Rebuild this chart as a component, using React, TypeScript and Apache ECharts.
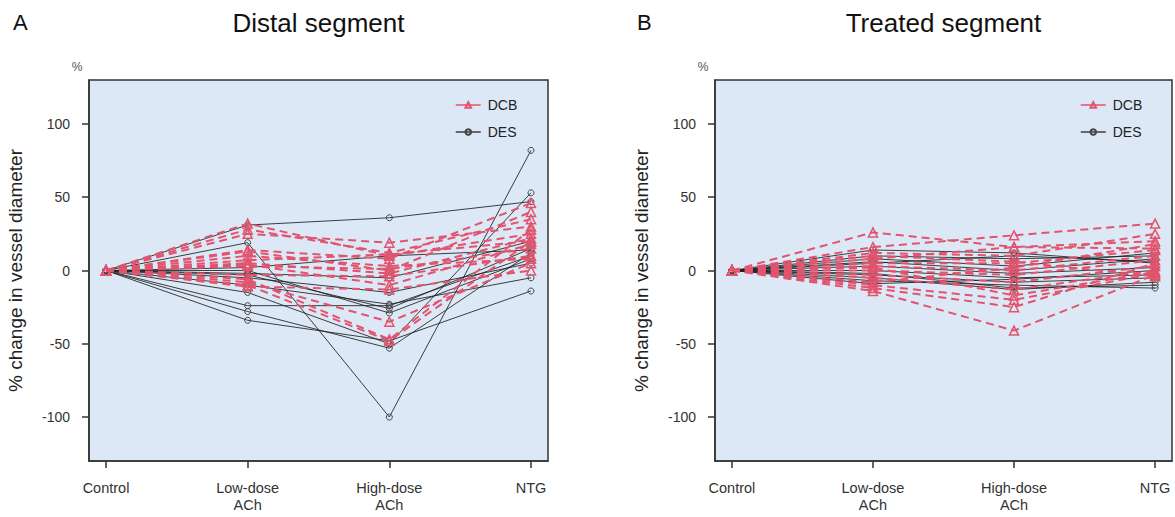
import React, { useEffect, useRef } from "react";
import * as echarts from "echarts";

const categories = ["Control", "Low-dose\nACh", "High-dose\nACh", "NTG"];
const yTicks = [-100, -50, 0, 50, 100];
const panelTitles = ["Distal segment", "Treated segment"];
const panelLetters = ["A", "B"];

// Panel A – distal segment
const distalDES = [
  [0, 31, 36, 47],
  [0, 19, -100, 82],
  [0, -15, -50, 53],
  [0, -34, -48, -14],
  [0, -28, -53, 12],
  [0, -24, -24, 10],
  [0, -3, -26, 15],
  [0, 0, -29, 8],
  [0, -2, -5, 20],
  [0, 2, 10, 14],
  [0, -5, -15, 5],
  [0, -10, -23, -5],
];
const distalDCB = [
  [0, 32, 10, 25],
  [0, 28, 12, 35],
  [0, 25, 19, 30],
  [0, 14, 8, 46],
  [0, 13, 0, 40],
  [0, 7, 11, 20],
  [0, 5, -2, 22],
  [0, 4, -10, 18],
  [0, 3, 1, 15],
  [0, -3, -4, 10],
  [0, -8, -35, 5],
  [0, -10, -48, 20],
  [0, -11, -13, 0],
  [0, -6, -47, 28],
  [0, 10, 3, 8],
];

// Panel B – treated segment
const treatedDES = [
  [0, 14, 12, 5],
  [0, 10, 8, 10],
  [0, 8, 3, 12],
  [0, 5, 10, 6],
  [0, 3, -2, 2],
  [0, 0, -5, -3],
  [0, -3, -8, -5],
  [0, -5, -13, -8],
  [0, -7, -10, -12],
  [0, -9, -6, 0],
  [0, 6, 0, 8],
  [0, -2, -12, -10],
];
const treatedDCB = [
  [0, 26, 16, 15],
  [0, 16, 24, 32],
  [0, 12, 10, 25],
  [0, 8, 16, 20],
  [0, 5, 5, 14],
  [0, 3, 0, 10],
  [0, 0, -3, 7],
  [0, -3, -8, 3],
  [0, -5, -13, 0],
  [0, -10, -20, -2],
  [0, -14, -41, -3],
  [0, -12, -25, 5],
  [0, 2, -17, -1],
  [0, -8, 2, 18],
  [0, 10, 6, -4],
];

const RED = "#e2546e";
const DARK = "#1e1e1e";
const BG = "#dce8f5";
const FONT = "Liberation Sans, Arial, Helvetica, sans-serif";

export default function App() {
  const ref = useRef<HTMLDivElement>(null);
  useEffect(() => {
    if (!ref.current) return;
    const chart = echarts.init(ref.current, null, { renderer: "svg" });
    const grids = [
      { left: 89, top: 80, width: 459, height: 381 },
      { left: 715, top: 80, width: 457, height: 381 },
    ];
    const panels = [
      { des: distalDES, dcb: distalDCB },
      { des: treatedDES, dcb: treatedDCB },
    ];
    const series: any[] = [];
    panels.forEach((p, pi) => {
      p.des.forEach((row) => {
        series.push({
          type: "line",
          name: "DES",
          xAxisIndex: pi,
          yAxisIndex: pi,
          data: row.map((v, i) => [i, v]),
          symbol: "circle",
          symbolSize: 6,
          lineStyle: { color: DARK, width: 1, opacity: 0.85 },
          itemStyle: { color: "rgba(0,0,0,0)", borderColor: "#444", borderWidth: 1 },
          silent: true,
          z: 2,
        });
      });
      p.dcb.forEach((row) => {
        series.push({
          type: "line",
          name: "DCB",
          xAxisIndex: pi,
          yAxisIndex: pi,
          data: row.map((v, i) => [i, v]),
          symbol: "triangle",
          symbolSize: 9,
          lineStyle: { color: RED, width: 2, type: [8, 5] },
          itemStyle: { color: "rgba(0,0,0,0)", borderColor: RED, borderWidth: 1.5 },
          silent: true,
          z: 3,
        });
      });
    });

    const xAxes = grids.map((_, i) => ({
      type: "value",
      gridIndex: i,
      min: -0.12,
      max: 3.12,
      splitLine: { show: false },
      axisLine: { show: true, onZero: false, lineStyle: { color: "#333", width: 1.5 } },
      axisTick: { show: true, customValues: [0, 1, 2, 3], length: 7, lineStyle: { color: "#333", width: 1.5 } },
      axisLabel: {
        customValues: [0, 1, 2, 3],
        formatter: (v: number) => categories[Math.round(v)] ?? "",
        fontSize: 14.5,
        lineHeight: 17,
        color: "#333",
        fontFamily: FONT,
        margin: 18,
      },
    }));
    const yAxes = grids.map((_, i) => ({
      type: "value",
      gridIndex: i,
      min: -130,
      max: 130,
      name: "% change in vessel diameter",
      nameLocation: "middle",
      nameRotate: 90,
      nameGap: 64,
      nameTextStyle: { fontSize: 19, color: "#222", fontFamily: FONT },
      splitLine: { show: false },
      axisLine: { show: true, onZero: false, lineStyle: { color: "#333", width: 1.5 } },
      axisTick: { show: true, customValues: yTicks, length: 7, lineStyle: { color: "#333", width: 1.5 } },
      axisLabel: {
        customValues: yTicks,
        fontSize: 14,
        color: "#333",
        fontFamily: FONT,
        margin: 19,
      },
    }));

    const legendBase = {
      orient: "vertical",
      data: ["DCB", "DES"],
      itemWidth: 25,
      itemHeight: 7,
      itemGap: 13,
      selectedMode: false,
      lineStyle: { type: "solid", width: 1.5 },
      textStyle: { fontSize: 14, color: "#222", fontFamily: FONT, padding: [0, 0, 0, 2] },
    };

    const graphic: any[] = [];
    grids.forEach((g, i) => {
      graphic.push({
        type: "text",
        left: i === 0 ? 13 : 637,
        top: 11,
        style: { text: panelLetters[i], fontSize: 22, fill: "#111", fontFamily: FONT },
      });
      graphic.push({
        type: "text",
        x: g.left + g.width / 2,
        y: 23,
        style: {
          text: panelTitles[i],
          fontSize: 26,
          fill: "#111",
          fontFamily: FONT,
          textAlign: "center",
          textVerticalAlign: "middle",
        },
      });
      graphic.push({
        type: "text",
        x: g.left - 12,
        y: 67,
        style: {
          text: "%",
          fontSize: 12,
          fill: "#555",
          fontFamily: FONT,
          textAlign: "center",
          textVerticalAlign: "middle",
        },
      });
    });

    chart.setOption({
      animation: false,
      backgroundColor: "#ffffff",
      textStyle: { fontFamily: FONT },
      grid: grids.map((g) => ({
        ...g,
        show: true,
        backgroundColor: BG,
        borderColor: "#333",
        borderWidth: 1.5,
        containLabel: false,
      })),
      xAxis: xAxes,
      yAxis: yAxes,
      legend: [
        { ...legendBase, left: 450, top: 93 },
        { ...legendBase, left: 1075, top: 93 },
      ],
      graphic,
      series,
    });
    return () => chart.dispose();
  }, []);
  return (
    <div
      ref={ref}
      style={{ position: "absolute", left: 0, top: 0, width: 1175, height: 517 }}
    />
  );
}
